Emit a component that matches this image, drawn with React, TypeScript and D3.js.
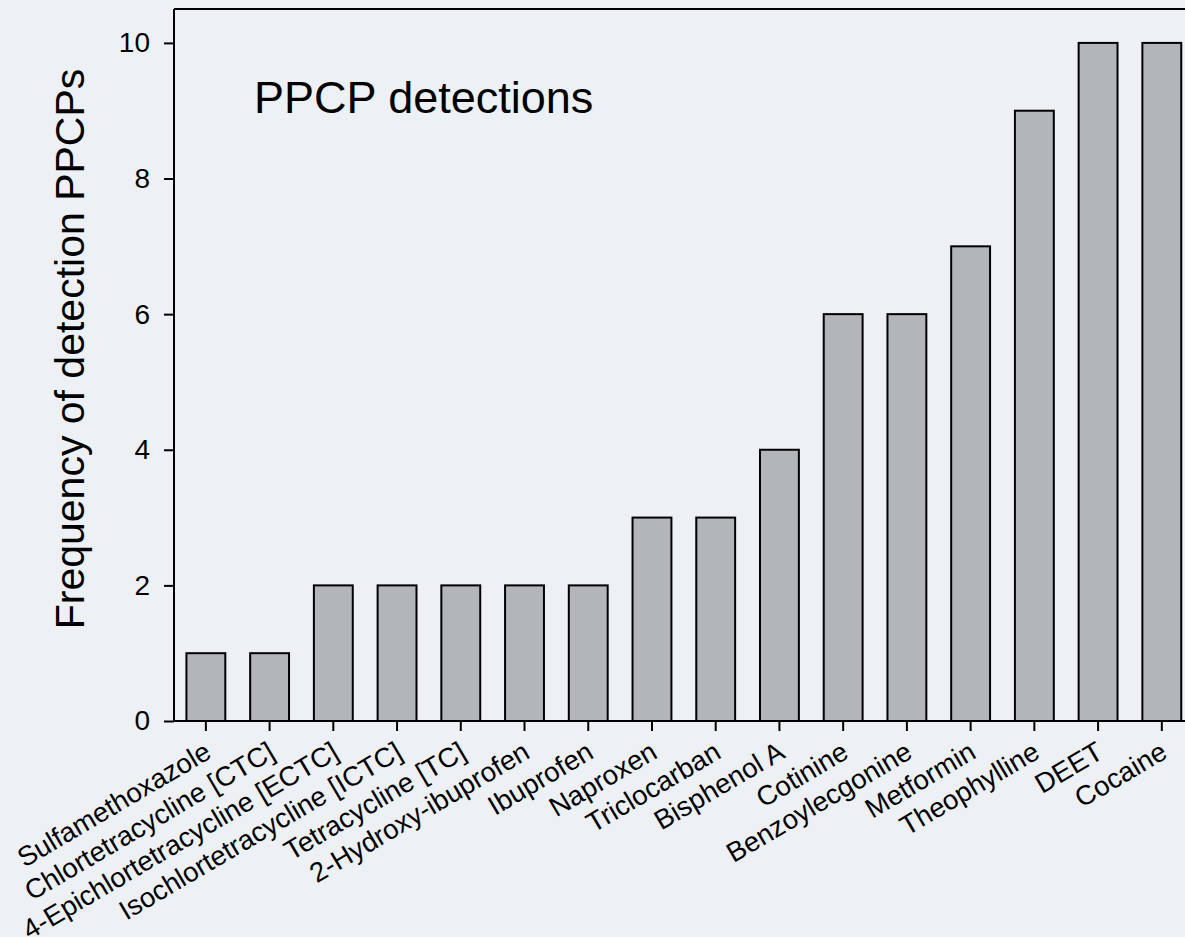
import React, { useEffect, useRef } from "react";
import * as d3 from "d3";

const compounds = [
  "Sulfamethoxazole",
  "Chlortetracycline [CTC]",
  "4-Epichlortetracycline [ECTC]",
  "Isochlortetracycline [ICTC]",
  "Tetracycline [TC]",
  "2-Hydroxy-ibuprofen",
  "Ibuprofen",
  "Naproxen",
  "Triclocarban",
  "Bisphenol A",
  "Cotinine",
  "Benzoylecgonine",
  "Metformin",
  "Theophylline",
  "DEET",
  "Cocaine",
];

const detections = [1, 1, 2, 2, 2, 2, 2, 3, 3, 4, 6, 6, 7, 9, 10, 10];

const yTicks = [0, 2, 4, 6, 8, 10];

const App = () => {
  const svgRef = useRef<SVGSVGElement>(null);

  useEffect(() => {
    const svg = d3.select(svgRef.current);
    svg.selectAll("*").remove();

    const width = 1185;
    const height = 937;
    const left = 174;
    const top = 9;
    const bottom = 721;
    const font = "Arial, 'Liberation Sans', sans-serif";

    svg.append("rect").attr("width", width).attr("height", height).attr("fill", "#edf0f5");

    const x = d3
      .scaleBand()
      .domain(compounds)
      .range([left, left + 16 * 63.73])
      .paddingInner(0.39)
      .paddingOuter(0.195);

    const y = d3.scaleLinear().domain([0, 10.5]).range([bottom, top]);

    // bars
    svg
      .selectAll(".bar")
      .data(detections)
      .join("rect")
      .attr("class", "bar")
      .attr("x", (d, i) => x(compounds[i]))
      .attr("y", (d) => y(d))
      .attr("width", x.bandwidth())
      .attr("height", (d) => y(0) - y(d))
      .attr("fill", "#b2b5ba")
      .attr("stroke", "#000")
      .attr("stroke-width", 2);

    // frame
    svg
      .append("line")
      .attr("x1", left)
      .attr("x2", width + 5)
      .attr("y1", top)
      .attr("y2", top)
      .attr("stroke", "#000")
      .attr("stroke-width", 2);

    // y axis
    const yAxis = svg
      .append("g")
      .attr("transform", `translate(${left},0)`)
      .call(d3.axisLeft(y).tickValues(yTicks).tickSize(10).tickPadding(14));
    yAxis.select(".domain").attr("d", `M0,${top}V${bottom}`).attr("stroke-width", 2);
    yAxis.selectAll(".tick line").attr("stroke-width", 2);
    yAxis
      .selectAll(".tick text")
      .attr("font-family", font)
      .attr("font-size", 28)
      .attr("fill", "#000");

    // x axis
    const xAxis = svg
      .append("g")
      .attr("transform", `translate(0,${bottom})`)
      .call(d3.axisBottom(x).tickSize(10).tickFormat(() => ""));
    xAxis.select(".domain").attr("d", `M${left},0H${width + 5}`).attr("stroke-width", 2);
    xAxis.selectAll(".tick line").attr("stroke-width", 2);

    svg
      .selectAll(".xlabel")
      .data(compounds)
      .join("text")
      .attr("class", "xlabel")
      .attr("text-anchor", "end")
      .attr("font-family", font)
      .attr("font-size", 27.5)
      .attr("transform", (d) => `translate(${x(d) + x.bandwidth() / 2 + 7},${bottom + 36}) rotate(-30.5)`)
      .text((d) => d);

    // y label
    svg
      .append("text")
      .attr("transform", `translate(84,${(top + bottom) / 2 - 16}) rotate(-90)`)
      .attr("text-anchor", "middle")
      .attr("font-family", font)
      .attr("font-size", 41)
      .text("Frequency of detection PPCPs");

    // title
    svg
      .append("text")
      .attr("x", 254)
      .attr("y", 113)
      .attr("font-family", font)
      .attr("font-size", 45)
      .text("PPCP detections");
  }, []);

  return (
    <svg
      ref={svgRef}
      width="1185"
      height="937"
      style={{ position: "absolute", left: 0, top: 0 }}
    />
  );
};

export default App;
